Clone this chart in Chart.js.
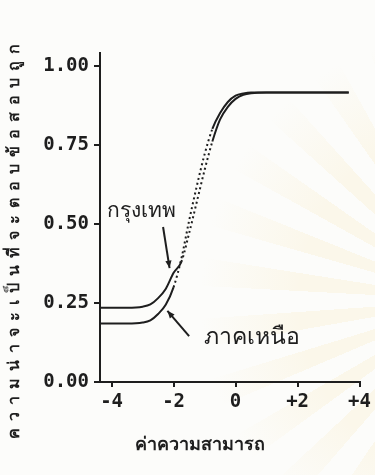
<!DOCTYPE html>
<html>
<head>
<meta charset="utf-8">
<script src="https://cdn.jsdelivr.net/npm/chart.js@4/dist/chart.umd.min.js"></script>
<style>
    html, body { margin: 0; padding: 0; background: #fcfcfa; }
    #wrap {
        width: 375px; height: 475px; position: relative;
        background:
            radial-gradient(circle at 470px 300px, rgba(252,252,250,0) 0, rgba(252,252,250,0) 170px, #fcfcfa 270px),
            repeating-conic-gradient(from 0deg at 470px 300px, #fbf7ea 0deg 6deg, #fcfcfa 6deg 13deg);
    }
</style>
</head>
<body>
<div id="wrap"><canvas id="icc"></canvas></div>
<script>
// ค่าความสามารถ (theta) ที่อ่านจากภาพ
const abilities = [-4.375, -4, -3.5, -3, -2.75, -2.5, -2.25, -2, -1.75, -1.5, -1.25, -1, -0.75, -0.5, -0.25, 0, 0.25, 0.5, 1, 2, 3, 3.65];
const bangkok = [0.235, 0.235, 0.235, 0.238, 0.245, 0.265, 0.295, 0.345, 0.38, 0.47, 0.57, 0.67, 0.76, 0.83, 0.87, 0.895, 0.908, 0.913, 0.915, 0.915, 0.915, 0.915];
const north = [0.185, 0.185, 0.185, 0.188, 0.195, 0.215, 0.245, 0.30, 0.39, 0.51, 0.62, 0.72, 0.80, 0.85, 0.885, 0.905, 0.912, 0.915, 0.915, 0.915, 0.915, 0.915];

const xTicks = [-4, -2, 0, 2, 4];
const xTickLabels = ['-4', '-2', '0', '+2', '+4'];
const yTicks = [0, 0.25, 0.5, 0.75, 1];
const yTickLabels = ['0.00', '0.25', '0.50', '0.75', '1.00'];

const xTitle = 'ค่าความสามารถ';
const yTitle = 'ความน่าจะเป็นที่จะตอบข้อสอบถูก';
const seriesNames = ['กรุงเทพ', 'ภาคเหนือ'];

const ink = '#1e1e1e';
const tickFont = { family: "'DejaVu Sans Mono', 'Liberation Mono', monospace", size: 19, weight: 'bold' };
const thaiFont = "'Noto Sans', 'DejaVu Sans', sans-serif";

// ส่วนที่ชันพิมพ์ออกมาเป็นจุด ๆ
const steepDash = ctx => {
    const dx = ctx.p1.parsed.x - ctx.p0.parsed.x;
    const dy = ctx.p1.parsed.y - ctx.p0.parsed.y;
    return dy / dx > 0.3 ? [2, 3] : undefined;
};

const makeSet = (label, values) => ({
    label,
    data: abilities.map((x, i) => ({ x, y: values[i] })),
    borderColor: ink,
    borderWidth: 2,
    pointRadius: 0,
    cubicInterpolationMode: 'monotone',
    fill: false,
    segment: { borderDash: steepDash }
});

// ป้ายชื่อเส้นและลูกศร (ตำแหน่งเป็นค่าข้อมูล)
const notes = [
    { text: seriesNames[0], x: -4.15, y: 0.54, from: [-2.34, 0.49], to: [-2.13, 0.36] },
    { text: seriesNames[1], x: -1.02, y: 0.14, from: [-1.5, 0.145], to: [-2.2, 0.225] }
];

const decorPlugin = {
    id: 'decor',
    afterDraw(chart) {
        const { ctx, scales: { x, y }, chartArea } = chart;
        ctx.save();
        ctx.fillStyle = ink;
        ctx.strokeStyle = ink;
        ctx.lineWidth = 2;
        ctx.textBaseline = 'middle';
        notes.forEach((n, i) => {
            ctx.textAlign = 'left';
            ctx.font = `${i === 0 ? 21 : 23}px ${thaiFont}`;
            ctx.fillText(n.text, x.getPixelForValue(n.x), y.getPixelForValue(n.y));
            const x0 = x.getPixelForValue(n.from[0]), y0 = y.getPixelForValue(n.from[1]);
            const x1 = x.getPixelForValue(n.to[0]), y1 = y.getPixelForValue(n.to[1]);
            ctx.beginPath();
            ctx.moveTo(x0, y0);
            ctx.lineTo(x1, y1);
            ctx.stroke();
            const a = Math.atan2(y1 - y0, x1 - x0);
            ctx.beginPath();
            ctx.moveTo(x1, y1);
            ctx.lineTo(x1 - 8 * Math.cos(a - 0.4), y1 - 8 * Math.sin(a - 0.4));
            ctx.lineTo(x1 - 8 * Math.cos(a + 0.4), y1 - 8 * Math.sin(a + 0.4));
            ctx.closePath();
            ctx.fill();
        });

        // ชื่อแกน
        ctx.font = `bold 18px ${thaiFont}`;
        ctx.textAlign = 'center';
        ctx.fillText(xTitle, x.getPixelForValue(-1.16), chartArea.bottom + 63);

        ctx.translate(14, 238);
        ctx.rotate(-Math.PI / 2);
        ctx.letterSpacing = '7px';
        ctx.font = `bold 16px ${thaiFont}`;
        ctx.fillText(yTitle, 0, 0);
        ctx.restore();
    }
};

new Chart(document.getElementById('icc'), {
    type: 'line',
    data: { datasets: [makeSet(seriesNames[0], bangkok), makeSet(seriesNames[1], north)] },
    options: {
        responsive: true,
        maintainAspectRatio: false,
        animation: false,
        layout: { padding: { left: 0, right: 6, top: 53, bottom: 0 } },
        plugins: { legend: { display: false }, tooltip: { enabled: false } },
        scales: {
            x: {
                type: 'linear',
                min: -4.375,
                max: 4,
                afterBuildTicks: axis => { axis.ticks = xTicks.map(v => ({ value: v })); },
                afterFit: axis => { axis.height = 93; },
                grid: { drawOnChartArea: false, drawTicks: true, tickLength: 5, color: ink, lineWidth: 2 },
                border: { display: true, color: ink, width: 2 },
                ticks: {
                    color: ink,
                    font: tickFont,
                    padding: 4,
                    maxRotation: 0,
                    callback: v => xTickLabels[xTicks.indexOf(v)]
                }
            },
            y: {
                min: 0,
                max: 1.04,
                afterBuildTicks: axis => { axis.ticks = yTicks.map(v => ({ value: v })); },
                afterFit: axis => { axis.width = 100; },
                grid: { drawOnChartArea: false, drawTicks: true, tickLength: 6, color: ink, lineWidth: 2 },
                border: { display: true, color: ink, width: 2 },
                ticks: {
                    color: ink,
                    font: tickFont,
                    padding: 5,
                    callback: v => yTickLabels[yTicks.indexOf(v)]
                }
            }
        }
    },
    plugins: [decorPlugin]
});
</script>
</body>
</html>
